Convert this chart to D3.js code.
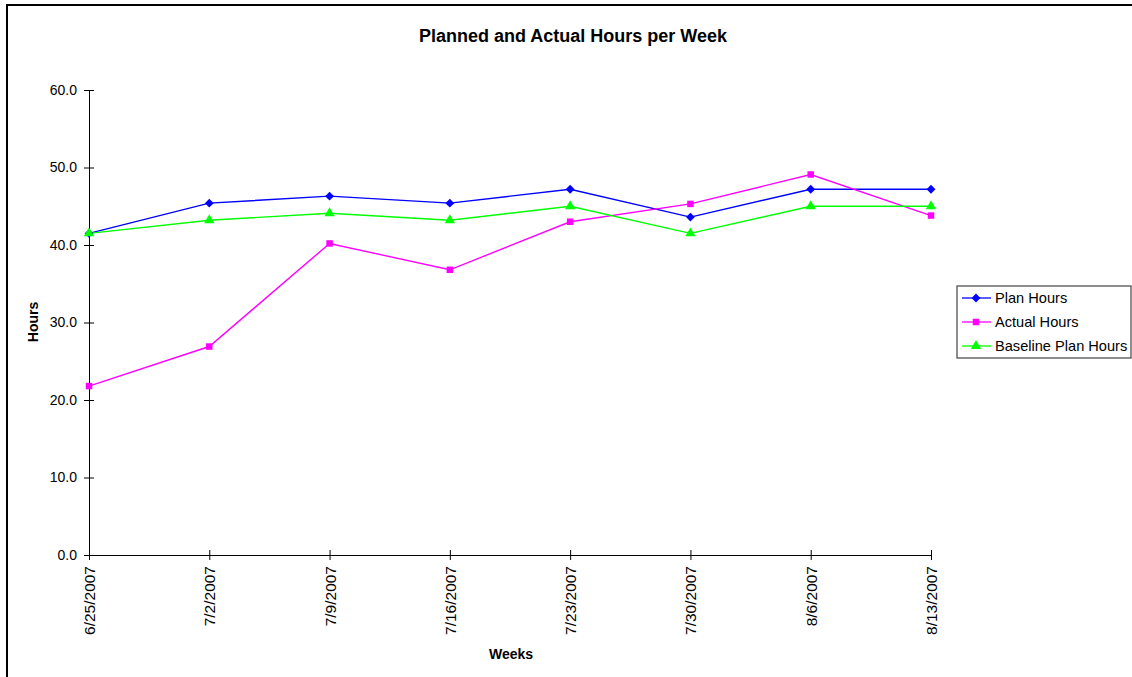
<!DOCTYPE html>
<html>
<head>
<meta charset="utf-8">
<script src="https://cdn.jsdelivr.net/npm/d3@7"></script>
<style>
  html, body { margin: 0; padding: 0; background: #fff; overflow: hidden; }
  svg { display: block; font-family: "Liberation Sans", Arial, sans-serif; }
</style>
</head>
<body>
<svg id="chart" width="1132" height="677"></svg>
<script>
// Week start dates (category axis)
const weeks = ["6/25/2007", "7/2/2007", "7/9/2007", "7/16/2007", "7/23/2007", "7/30/2007", "8/6/2007", "8/13/2007"];

// Hours per week for each series
const planHours = [41.5, 45.4, 46.3, 45.4, 47.2, 43.6, 47.2, 47.2];
const actualHours = [21.8, 26.9, 40.2, 36.8, 43.0, 45.3, 49.1, 43.8];
const baselinePlanHours = [41.5, 43.2, 44.1, 43.2, 45.0, 41.5, 45.0, 45.0];

// Value axis ticks
const yTicks = [0, 10, 20, 30, 40, 50, 60];

const seriesNames = ["Plan Hours", "Actual Hours", "Baseline Plan Hours"];
const seriesColors = ["#0000FF", "#FF00FF", "#00FF00"];
const seriesShapes = [d3.symbolDiamond2, d3.symbolSquare, d3.symbolTriangle];
const seriesSizes = [50, 42, 46];

const series = [planHours, actualHours, baselinePlanHours].map((vals, i) => ({
  name: seriesNames[i],
  color: seriesColors[i],
  shape: seriesShapes[i],
  size: seriesSizes[i],
  values: vals
}));

const svg = d3.select("#chart");

// Outer frame: top and left edges only are visible
svg.append("path")
  .attr("d", "M7,677 L7,5 L1132,5")
  .attr("fill", "none")
  .attr("stroke", "#000")
  .attr("stroke-width", 2);

const x = d3.scalePoint().domain(weeks).range([89, 931]).padding(0);
const y = d3.scaleLinear().domain([0, 60]).range([555, 90]);

// Title
svg.append("text")
  .attr("x", 573).attr("y", 42)
  .attr("text-anchor", "middle")
  .attr("font-size", 18).attr("font-weight", "bold")
  .text("Planned and Actual Hours per Week");

// Y axis
const yAxis = svg.append("g")
  .attr("transform", "translate(89,0)")
  .call(d3.axisLeft(y).tickValues(yTicks).tickFormat(d3.format(".1f")).tickSizeInner(5).tickSizeOuter(0).tickPadding(7));
yAxis.select(".domain").attr("stroke", "#000");
yAxis.selectAll(".tick line").attr("x1", 5).attr("x2", -5).attr("stroke", "#000");
yAxis.selectAll(".tick text").attr("font-size", 14).attr("fill", "#000")
  .attr("font-family", "Liberation Sans, Arial, sans-serif");

// X axis
const xAxis = svg.append("g")
  .attr("transform", "translate(0,555)")
  .call(d3.axisBottom(x).tickSizeInner(5).tickSizeOuter(0));
xAxis.select(".domain").attr("stroke", "#000");
xAxis.selectAll(".tick line").attr("y1", -5).attr("y2", 5).attr("stroke", "#000");
xAxis.selectAll(".tick text")
  .attr("font-size", 15.5).attr("fill", "#000")
  .attr("font-family", "Liberation Sans, Arial, sans-serif")
  .attr("text-anchor", "end")
  .attr("dy", null)
  .attr("y", 0)
  .attr("transform", "translate(5.5,11) rotate(-90)");

// Axis titles
svg.append("text")
  .attr("transform", "translate(38,322) rotate(-90)")
  .attr("text-anchor", "middle")
  .attr("font-size", 14).attr("font-weight", "bold")
  .text("Hours");

svg.append("text")
  .attr("x", 511).attr("y", 659)
  .attr("text-anchor", "middle")
  .attr("font-size", 14).attr("font-weight", "bold")
  .text("Weeks");

// Series lines and markers
const line = d3.line().x((d, i) => x(weeks[i])).y(d => y(d));

series.forEach(s => {
  svg.append("path")
    .datum(s.values)
    .attr("fill", "none")
    .attr("stroke", s.color)
    .attr("stroke-width", 1.4)
    .attr("d", line);
});

series.forEach(s => {
  svg.append("g").selectAll("path")
    .data(s.values)
    .join("path")
    .attr("transform", (d, i) => `translate(${x(weeks[i])},${y(d)})`)
    .attr("d", d3.symbol().type(s.shape).size(s.size))
    .attr("fill", s.color);
});

// Legend
const legend = svg.append("g");
legend.append("rect")
  .attr("x", 957).attr("y", 286)
  .attr("width", 174).attr("height", 72)
  .attr("fill", "#fff")
  .attr("stroke", "#444")
  .attr("stroke-width", 1.2);

series.forEach((s, i) => {
  const cy = 298 + i * 24;
  legend.append("line")
    .attr("x1", 962).attr("x2", 991)
    .attr("y1", cy).attr("y2", cy)
    .attr("stroke", s.color).attr("stroke-width", 1.3);
  legend.append("path")
    .attr("transform", `translate(976,${cy})`)
    .attr("d", d3.symbol().type(s.shape).size(s.size))
    .attr("fill", s.color);
  legend.append("text")
    .attr("x", 995).attr("y", cy + 5)
    .attr("font-size", 14.6)
    .text(s.name);
});
</script>
</body>
</html>
